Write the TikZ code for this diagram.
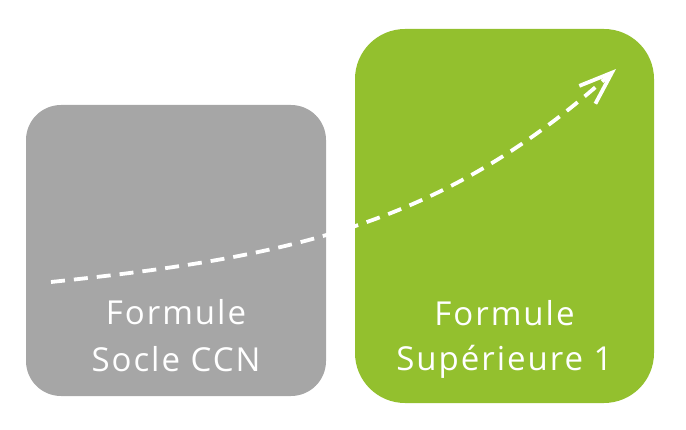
\documentclass[tikz,border=0pt]{standalone}
\usepackage{fontspec}
\setmainfont[LetterSpace=6]{Open Sans}
\usetikzlibrary{arrows.meta}
\definecolor{boxgray}{RGB}{166,166,166}
\definecolor{boxgreen}{RGB}{147,192,46}
\begin{document}
\begin{tikzpicture}[x=1pt,y=1pt,
  card/.style={draw=none,inner sep=0pt},
  caption/.style={text=white,font=\fontsize{33}{46}\selectfont,anchor=base,inner sep=0pt},
  trend/.style={white,line width=3.8pt,dash pattern=on 14pt off 9pt,
    -{Straight Barb[length=33pt,width=24pt,line width=3.8pt]}}]
\useasboundingbox (0,0) rectangle (686,429);
\node[card,fill=boxgray,rounded corners=35pt,minimum width=300pt,minimum height=291pt] (socle) at (176,178.5) {};
\node[card,fill=boxgreen,rounded corners=50pt,minimum width=299pt,minimum height=374pt] (sup) at (504.5,213) {};
\node[caption] (t1) at (176,104) {Formule};
\node[caption] (t2) at (176,58) {Socle CCN};
\node[caption] (t3) at (504.5,103) {Formule};
\node[caption] (t4) at (504.5,59) {Supérieure 1};
\coordinate (s) at (51,147);
\coordinate (e) at (616,360);
\draw[trend] (s) to[out=6,in=222] (e);
\end{tikzpicture}
\end{document}
